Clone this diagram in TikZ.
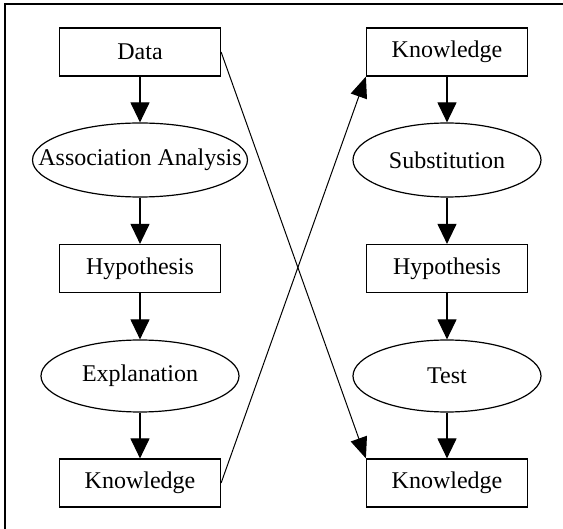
\documentclass[tikz,border=0pt]{standalone}
\usepackage{fontspec}
\setmainfont{Liberation Serif}
\usetikzlibrary{shapes.geometric,arrows.meta}
\begin{document}
\begin{tikzpicture}[x=1pt,y=-1pt,
  every node/.style={font=\fontsize{24}{28}\selectfont},
  boxnode/.style={draw,line width=1.2pt,minimum width=161pt,minimum height=48pt,inner sep=0pt},
  ellnode/.style={draw,ellipse,line width=1.2pt,inner sep=0pt},
  flow/.style={line width=1.2pt,-{Triangle[length=20pt,width=19pt]}},
  cross/.style={line width=1pt,-{Triangle[length=21pt,width=17pt]}}]
\useasboundingbox (0,0) rectangle (563,529);
\draw[line width=1.2pt] (5,529) -- (5,4) -- (563,4);
% left column
\node[boxnode] (data) at (140,52) {Data};
\node[ellnode,minimum width=215pt,minimum height=74pt] (aa) at (140,160) {};
\node at (aa) {Association Analysis};
\node[boxnode] (hl) at (140,268.5) {Hypothesis};
\node[ellnode,minimum width=198pt,minimum height=72pt] (ex) at (140,376) {};
\node at (ex) {Explanation};
\node[boxnode] (kl) at (140,483) {Knowledge};
% right column
\node[boxnode] (kt) at (447,52) {Knowledge};
\node[ellnode,minimum width=188pt,minimum height=74pt] (sub) at (447,160) {};
\node at (sub) {Substitution};
\node[boxnode] (hr) at (447,268.5) {Hypothesis};
\node[ellnode,minimum width=188pt,minimum height=72pt] (te) at (447,376) {};
\node at (te) {Test};
\node[boxnode] (kb) at (447,483) {Knowledge};
% vertical arrows
\draw[flow] (data) -- (aa);
\draw[flow] (aa) -- (hl);
\draw[flow] (hl) -- (ex);
\draw[flow] (ex) -- (kl);
\draw[flow] (kt) -- (sub);
\draw[flow] (sub) -- (hr);
\draw[flow] (hr) -- (te);
\draw[flow] (te) -- (kb);
% cross arrows
\draw[cross] (kl.east) -- (kt.south west);
\draw[cross] (data.east) -- (kb.north west);
\end{tikzpicture}
\end{document}
